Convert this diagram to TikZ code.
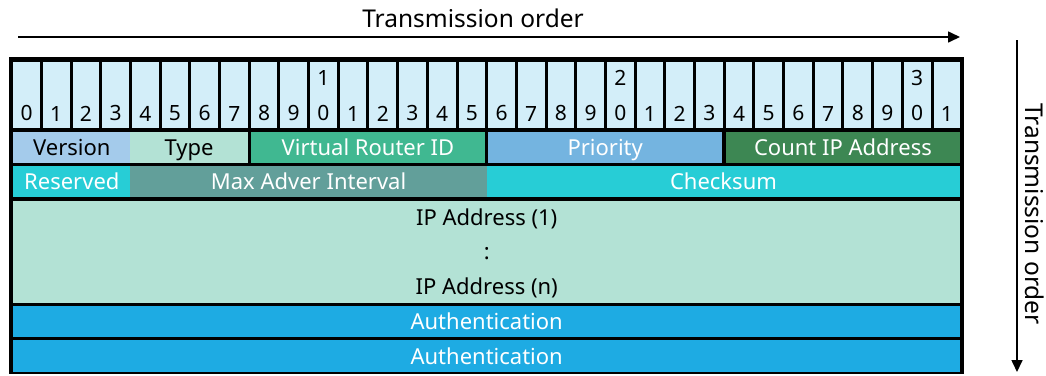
\documentclass[tikz,border=0pt]{standalone}
\usepackage{fontspec}
\setmainfont{Noto Sans}
\usetikzlibrary{arrows.meta,positioning}

\definecolor{bitcell}{HTML}{D3EEF9}
\definecolor{versfill}{HTML}{A4CBEB}
\definecolor{mint}{HTML}{B3E2D5}
\definecolor{vridfill}{HTML}{40B891}
\definecolor{prioFill}{HTML}{74B4E0}
\definecolor{countfill}{HTML}{3D8753}
\definecolor{cyanfill}{HTML}{27CDD6}
\definecolor{advfill}{HTML}{629F9A}
\definecolor{authfill}{HTML}{1EABE3}

\begin{document}
\begin{tikzpicture}[x=1pt, y=-1pt,
  field/.style={rectangle, inner sep=0pt, anchor=north west,
                minimum height=31pt, text height=15.7pt, text depth=0pt,
                font=\fontsize{22}{24}\selectfont},
  bitbox/.style={rectangle, inner sep=0pt, anchor=north west,
                 fill=bitcell, minimum width=26.69pt, minimum height=66pt},
  digit/.style={inner sep=0pt, font=\fontsize{21}{22}\selectfont},
  arrow/.style={-{Triangle[length=12pt, width=11pt]}, line width=1.6pt},
  title/.style={inner sep=0pt, text height=17.5pt, text depth=0pt,
                font=\fontsize{24.5}{26}\selectfont}
]
  \useasboundingbox (0,0) rectangle (1046,375);

  % Frame
  \fill[black] (9,57) rectangle (964,374);

  % Bit numbers
  \foreach \i in {0,...,31} {
    \pgfmathsetmacro{\bx}{13+\i*29.6875}
    \pgfmathtruncatemacro{\d}{mod(\i,10)}
    \pgfmathtruncatemacro{\t}{div(\i,10)}
    \node[bitbox] (bit\i) at (\bx,62) {};
    \node[digit, above=7pt of bit\i.south, anchor=south] (d\i) {\d};
    \ifnum\d=0 \ifnum\i>0
      \node[digit, above=20pt of d\i] (t\i) {\t};
    \fi\fi
  }

  % Fields
  \node[field, fill=versfill, minimum width=117.25pt]  (vers)  at (13,132)    {Version};
  \node[field, fill=mint, minimum width=117.25pt]      (type)  at (130.25,132) {Type};
  \node[field, fill=vridfill, minimum width=234.5pt, text=white]  (vrid)  at (250.5,132) {Virtual Router ID};
  \node[field, fill=prioFill, minimum width=234.5pt, text=white]  (prio)  at (487.75,132) {Priority};
  \node[field, fill=countfill, minimum width=234.5pt, text=white] (count) at (725.5,132) {Count IP Address};

  \node[field, fill=cyanfill, minimum width=117.25pt, text=white] (resv)  at (13,166)     {Reserved};
  \node[field, fill=advfill, minimum width=356.25pt, text=white]  (adv)   at (130.25,166) {Max Adver Interval};
  \node[field, fill=cyanfill, minimum width=473.5pt, text=white]  (csum)  at (486.5,166)  {Checksum};

  \node[rectangle, inner sep=0pt, anchor=north west, fill=mint,
        minimum width=947pt, minimum height=102pt] (addr) at (13,200.5) {};
  \node[font=\fontsize{22}{34.5}\selectfont, align=center, inner sep=0pt]
        at ([yshift=-1.5pt]addr.center) {IP Address (1)\\:\\IP Address (n)};

  \node[field, fill=authfill, minimum width=947pt, text=white] (auth1) at (13,306) {Authentication};
  \node[field, fill=authfill, minimum width=947pt, minimum height=32pt, text=white] (auth2) at (13,340) {Authentication};

  % Arrows
  \coordinate (hs) at (18,37);
  \coordinate (he) at (960,37);
  \coordinate (vs) at (1017,40);
  \coordinate (ve) at (1017,372);
  \node[title] (htitle) at (473,19) {Transmission order};
  \node[title, rotate=-90] (vtitle) at (1034,214) {Transmission order};
  \draw[arrow] (hs) -- (he);
  \draw[arrow] (vs) -- (ve);
\end{tikzpicture}
\end{document}
